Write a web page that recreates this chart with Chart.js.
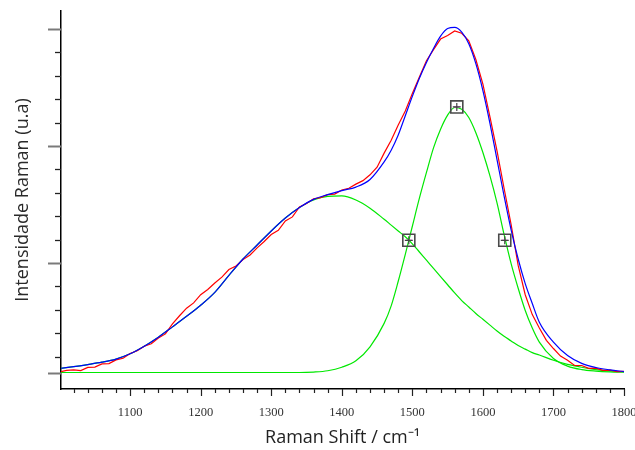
<!DOCTYPE html>
<html>
<head>
<meta charset="utf-8">
<script src="https://cdn.jsdelivr.net/npm/chart.js@4.4.1/dist/chart.umd.min.js"></script>
<style>
   html, body { margin: 0; padding: 0; background: #ffffff; }
   #wrap { width: 635px; height: 450px; }
</style>
</head>
<body>
<div id="wrap"><canvas id="chart" width="635" height="450"></canvas></div>
<script>
/* Données */
const fitX = [1000, 1020, 1040, 1060, 1080, 1100, 1120, 1140, 1160, 1180, 1200, 1220, 1240, 1260, 1280, 1300, 1320, 1340, 1360, 1380, 1400, 1420, 1440, 1460,
   1470, 1480, 1490, 1500, 1510, 1520, 1530, 1540, 1550, 1560, 1570, 1580, 1590, 1600, 1610, 1620, 1630, 1640, 1650, 1660, 1670, 1680,
   1700, 1720, 1740, 1760, 1780, 1800];

// Ajuste total (bleu)
const fitTotal = [3.5, 5, 6.8, 8.8, 11.5, 16, 22.5, 30.2, 39, 48, 57.5, 68.5, 83, 97, 109, 121, 132, 141, 148, 152, 155.5, 158.5, 165, 180,
   190, 203, 219.5, 236, 251.5, 265, 277, 287.5, 294, 295, 291, 281, 264, 241, 213, 182, 151, 122, 97, 76, 59, 43,
   26, 14.5, 7.8, 4.3, 2.3, 0.8];

// Bande D (vert, large)
const peakD = [3.5, 5, 6.8, 8.8, 11.5, 16, 22.5, 30.2, 39, 48, 57.5, 68.5, 83, 97, 109, 121, 132, 141, 147.5, 150.5, 151, 147.5, 140.5, 131,
   126, 121, 116, 110, 103, 96, 89, 82, 75, 68, 61.5, 56, 50.5, 45.5, 40.5, 35.5, 31, 27, 23, 20, 17, 15,
   10.5, 7, 4.5, 2.5, 1.3, 0.7];

// Bande G (vert, étroite)
const peakG = [0, 0, 0, 0, 0, 0, 0, 0, 0, 0, 0, 0, 0, 0, 0, 0, 0, 0, 0.4, 1.5, 4.5, 10, 22, 42,
   57, 78, 101, 125, 149, 171, 192, 208, 220, 226.5, 225, 218, 205, 188, 168, 145, 118, 93, 72, 53, 38, 26,
   12, 5.5, 2.5, 1.2, 0.5, 0.2];

// Spectre mesuré (rouge)
const ramanX = [1000, 1010, 1020, 1030, 1040, 1050, 1060, 1070, 1080, 1090, 1100, 1110, 1120, 1130, 1140, 1150, 1160, 1170, 1180, 1190,
   1200, 1210, 1220, 1230, 1240, 1250, 1260, 1270, 1280, 1290, 1300, 1310, 1320, 1330, 1340, 1350, 1360, 1370, 1380, 1390,
   1400, 1410, 1420, 1430, 1440, 1450, 1460, 1470, 1480, 1490, 1500, 1510, 1520, 1530, 1540, 1550, 1560, 1570, 1580, 1590,
   1600, 1610, 1620, 1630, 1640, 1650, 1660, 1670, 1680, 1690, 1700, 1710, 1720, 1730, 1740, 1750, 1760, 1770, 1780, 1790, 1800];
const ramanY = [0.5, 1.8, 2.2, 1.6, 4.4, 4.6, 7.4, 7.6, 10.8, 12.2, 16.2, 18.6, 22.4, 24.6, 29.4, 33, 41.5, 48.5, 55, 59.5,
   66.5, 71, 76.5, 81.5, 88, 91, 96.5, 100.5, 106.5, 112, 118, 121.5, 129.5, 133, 141.5, 144.5, 148.5, 149.5, 152, 152.5,
   156, 157.5, 161, 164, 169, 175.5, 187.5, 198.5, 211.5, 223.5, 238.5, 252.5, 266.5, 276, 285, 288, 292, 290, 283.5, 267.5,
   246.5, 218.5, 189.5, 157.5, 126.5, 91.5, 66.5, 49.5, 38, 27.5, 20.5, 14, 10.5, 6, 6, 3.6, 3.8, 1.8, 2, 0.8, 0.9];

// Marqueurs (centre et demi-hauteur de la bande G)
const markerX = [1495, 1563, 1631];
const markerY = [113, 227, 113];

// Graduations
const xTickLabels = ['1100', '1200', '1300', '1400', '1500', '1600', '1700', '1800'];
const yMajorTicks = [0, 93.6, 193.6, 293.6];
const yMinorTicks = [13.6, 33.6, 53.6, 73.6, 113.6, 133.6, 153.6, 173.6, 213.6, 233.6, 253.6, 273.6];

function toPoints(xs, ys) {
   return xs.map((x, i) => ({x: x, y: ys[i]}));
}

// Petites graduations dessinées avec les échelles du graphique
const tickMarks = {
   id: 'tickMarks',
   afterDraw(chart) {
      const ctx = chart.ctx;
      const xs = chart.scales.x;
      const ys = chart.scales.y;
      const axisX = ys.right;
      const axisY = xs.top;
      ctx.save();
      // Axe Y
      yMinorTicks.forEach(v => {
         const p = Math.round(ys.getPixelForValue(v)) + 0.5;
         ctx.strokeStyle = '#222';
         ctx.lineWidth = 1.3;
         ctx.beginPath();
         ctx.moveTo(axisX - 6, p);
         ctx.lineTo(axisX, p);
         ctx.stroke();
      });
      yMajorTicks.forEach(v => {
         const p = Math.round(ys.getPixelForValue(v)) + 0.5;
         ctx.strokeStyle = '#7a7a7a';
         ctx.lineWidth = 2;
         ctx.beginPath();
         ctx.moveTo(axisX - 13, p);
         ctx.lineTo(axisX, p);
         ctx.stroke();
      });
      // Axe X
      for (let v = 1020; v <= 1800; v += 20) {
         const p = Math.round(xs.getPixelForValue(v)) + 0.5;
         const len = (v % 100 === 0) ? 7 : 4;
         ctx.strokeStyle = '#222';
         ctx.lineWidth = 1.2;
         ctx.beginPath();
         ctx.moveTo(p, axisY);
         ctx.lineTo(p, axisY + len);
         ctx.stroke();
      }
      ctx.restore();
   }
};

const lineStyle = {
   type: 'line',
   pointRadius: 0,
   borderWidth: 1.2,
   fill: false
};

const chart = new Chart(document.getElementById('chart'), {
   type: 'line',
   data: {
      datasets: [
         {
            type: 'scatter',
            data: toPoints(markerX, markerY),
            pointStyle: 'cross',
            pointRadius: 4,
            borderColor: '#444',
            borderWidth: 1.2,
            showLine: false
         },
         {
            type: 'scatter',
            data: toPoints(markerX, markerY),
            pointStyle: 'line',
            pointRadius: 3,
            borderColor: '#e23be2',
            borderWidth: 1.2,
            showLine: false
         },
         {
            type: 'scatter',
            data: toPoints(markerX, markerY),
            pointStyle: 'rect',
            pointRadius: 8.5,
            borderColor: '#4a4a4a',
            backgroundColor: 'rgba(0,0,0,0)',
            borderWidth: 1.6,
            showLine: false
         },
         Object.assign({}, lineStyle, {
            data: toPoints(fitX, fitTotal),
            borderColor: 'rgb(0, 0, 255)',
            cubicInterpolationMode: 'monotone'
         }),
         Object.assign({}, lineStyle, {
            data: toPoints(ramanX, ramanY),
            borderColor: 'rgb(255, 0, 0)',
            tension: 0
         }),
         Object.assign({}, lineStyle, {
            data: toPoints(fitX, peakG),
            borderColor: 'rgb(0, 232, 0)',
            cubicInterpolationMode: 'monotone'
         }),
         Object.assign({}, lineStyle, {
            data: toPoints(fitX, peakD),
            borderColor: 'rgb(0, 232, 0)',
            cubicInterpolationMode: 'monotone'
         })
      ]
   },
   options: {
      responsive: false,
      animation: false,
      events: [],
      layout: {
         padding: {top: 11, right: 11, left: 0, bottom: 0}
      },
      scales: {
         x: {
            type: 'linear',
            min: 1002,
            max: 1800,
            afterBuildTicks: (scale) => {
               scale.ticks = xTickLabels.map(t => ({value: Number(t)}));
            },
            afterFit: (scale) => {
               scale.height = 61;
               scale.paddingLeft = 0;
               scale.paddingRight = 0;
            },
            ticks: {
               autoSkip: false,
               maxRotation: 0,
               padding: 16,
               color: '#333',
               font: {family: 'Liberation Serif', size: 12.5},
               callback: (value) => String(value)
            },
            grid: {display: false, drawTicks: false},
            border: {display: true, color: '#000', width: 1.5},
            title: {
               display: true,
               text: 'Raman Shift / cm\u207B\u00B9',
               color: '#222',
               font: {family: 'Open Sans', size: 18},
               padding: {top: 0, bottom: 1}
            }
         },
         y: {
            type: 'linear',
            min: -14.1,
            max: 309,
            afterFit: (scale) => {
               scale.width = 61;
            },
            ticks: {display: false},
            grid: {display: false, drawTicks: false},
            border: {display: true, color: '#000', width: 1.5},
            title: {
               display: true,
               text: 'Intensidade Raman (u.a)',
               color: '#2a2a2a',
               font: {family: 'Open Sans', size: 18},
               padding: {top: 12, bottom: 0}
            }
         }
      },
      plugins: {
         legend: {display: false},
         tooltip: {enabled: false}
      }
   },
   plugins: [tickMarks]
});
</script>
</body>
</html>
